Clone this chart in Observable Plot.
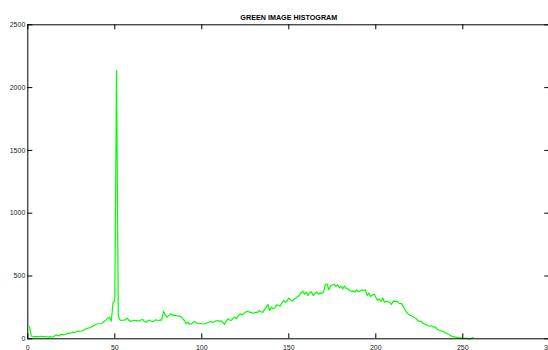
<!DOCTYPE html>
<html>
<head>
<meta charset="utf-8">
<script src="https://cdn.jsdelivr.net/npm/d3@7"></script>
<script src="https://cdn.jsdelivr.net/npm/@observablehq/plot@0.6"></script>
<style>
  html, body { margin: 0; padding: 0; background: #fff; overflow: hidden; }
  #chart { width: 548px; height: 350px; }
</style>
</head>
<body>
<div id="chart"></div>
<script>
const titleText = "GREEN IMAGE HISTOGRAM";
const xTicks = [0, 50, 100, 150, 200, 250, 300];
const yTicks = [0, 500, 1000, 1500, 2000, 2500];
const xDomain = [0, 300];
const yDomain = [0, 2500];

// histogram counts for gray levels, plotted at positions 1..256
const counts = [
  98, 22, 18, 17, 18, 17, 19, 20, 18, 17,
  16, 15, 17, 14, 18, 28, 30, 22, 33, 35,
  32, 38, 45, 42, 48, 53, 50, 56, 61, 60,
  62, 68, 78, 82, 86, 90, 98, 105, 114, 118,
  120, 122, 128, 140, 150, 165, 172, 140, 290, 305,
  2136, 180, 150, 146, 148, 150, 164, 150, 140, 142,
  148, 144, 146, 140, 150, 154, 138, 132, 144, 150,
  140, 136, 148, 150, 146, 150, 148, 218, 190, 172,
  185, 199, 190, 186, 188, 182, 180, 176, 160, 146,
  120, 132, 114, 120, 132, 138, 126, 122, 124, 120,
  118, 119, 126, 132, 138, 130, 135, 142, 146, 140,
  142, 130, 114, 140, 159, 150, 146, 165, 172, 160,
  185, 199, 190, 200, 212, 219, 214, 210, 207, 205,
  212, 210, 225, 215, 210, 232, 252, 273, 225, 252,
  239, 247, 270, 265, 260, 285, 305, 291, 300, 324,
  312, 300, 315, 324, 335, 345, 365, 379, 355, 372,
  345, 364, 374, 345, 360, 372, 355, 365, 362, 372,
  433, 436, 390, 420, 428, 436, 418, 429, 406, 418,
  398, 420, 400, 398, 385, 377, 382, 372, 390, 375,
  382, 390, 385, 390, 345, 364, 337, 350, 356, 330,
  308, 315, 297, 324, 291, 297, 295, 292, 273, 300,
  298, 300, 287, 282, 278, 252, 225, 205, 194, 185,
  180, 170, 164, 146, 138, 140, 124, 118, 111, 104,
  101, 104, 93, 96, 80, 70, 66, 60, 58, 45,
  40, 34, 25, 19, 16, 13, 10, 8, 7, 5,
  4, 3, 1, 0, 3, 12
];

const font = "'Liberation Sans', Arial, Helvetica, sans-serif";
const axisColor = "#000";

const chart = Plot.plot({
  width: 548,
  height: 350,
  marginLeft: 27.3,
  marginRight: -1.3,
  marginTop: 24.3,
  marginBottom: 11.7,
  style: { background: "#fff", fontFamily: font, overflow: "hidden" },
  x: { domain: xDomain, range: [27.3, 549.3], axis: null },
  y: { domain: yDomain, range: [338.3, 24.3], axis: null },
  marks: [
    // data line
    Plot.line(counts, { x: (d, i) => i + 1, y: d => d, stroke: "#00ff00", strokeWidth: 1.2 }),
    // box
    Plot.ruleY([yDomain[0]], { x1: xDomain[0], x2: xDomain[1], stroke: axisColor, strokeWidth: 1 }),
    Plot.ruleY([yDomain[1]], { x1: xDomain[0], x2: xDomain[1], stroke: axisColor, strokeWidth: 1 }),
    Plot.ruleX([xDomain[0]], { y1: yDomain[0], y2: yDomain[1], stroke: axisColor, strokeWidth: 1 }),
    Plot.ruleX([xDomain[1]], { y1: yDomain[0], y2: yDomain[1], stroke: axisColor, strokeWidth: 1 }),
    // inward ticks bottom/top
    Plot.ruleX(xTicks, { x: d => d, y1: yDomain[0], y2: yDomain[0], insetTop: -5, stroke: axisColor }),
    Plot.ruleX(xTicks, { x: d => d, y1: yDomain[1], y2: yDomain[1], insetBottom: -5, stroke: axisColor }),
    // inward ticks left/right
    Plot.ruleY(yTicks, { y: d => d, x1: xDomain[0], x2: xDomain[0], insetRight: -5, stroke: axisColor }),
    Plot.ruleY(yTicks, { y: d => d, x1: xDomain[1], x2: xDomain[1], insetLeft: -5, stroke: axisColor }),
    // tick labels
    Plot.text(xTicks, { x: d => d, y: yDomain[0], text: d => String(d), dy: 6.5, lineAnchor: "top", fontSize: 7, fill: "#222" }),
    Plot.text(yTicks, { x: xDomain[0], y: d => d, text: d => String(d), textAnchor: "end", dx: -2.5, fontSize: 7, fill: "#222" }),
    // title
    Plot.text([titleText], { frameAnchor: "top", text: d => d, dy: -5, lineAnchor: "bottom", fontSize: 7.2, fontWeight: "bold", fill: "#000" })
  ]
});

document.getElementById("chart").appendChild(chart);
</script>
</body>
</html>
